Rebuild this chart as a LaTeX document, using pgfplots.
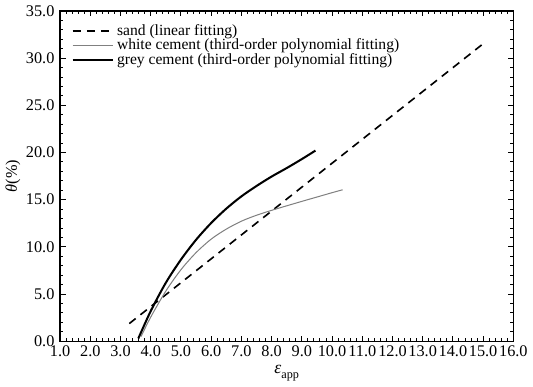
\documentclass[12pt,border=0pt]{standalone}
\usepackage{fontspec}
\setmainfont{Liberation Serif}
\usepackage{pgfplots}
\pgfplotsset{compat=1.18}
\begin{document}
\begin{tikzpicture}
\begin{axis}[
  width=334.5pt, height=243.75pt, scale only axis,
  xmin=1, xmax=16, ymin=0, ymax=35,
  xtick={1,2,...,16}, ytick={0,5,...,35},
  xticklabels={1.0,2.0,3.0,4.0,5.0,6.0,7.0,8.0,9.0,10.0,11.0,12.0,13.0,14.0,15.0,16.0},
  yticklabels={0.0,5.0,10.0,15.0,20.0,25.0,30.0,35.0},
  minor tick num=4,
  tick align=inside,
  major tick length=4pt, minor tick length=2.2pt,
  axis line style={line width=1pt},
  every tick/.style={black, line width=0.7pt},
  tick label style={font=\rmfamily\fontsize{12}{13}\selectfont},
  xticklabel style={yshift=1pt},
  xlabel={\fontsize{13}{14}\selectfont\textit{ε}\raisebox{-0.7ex}{\fontsize{9}{10}\selectfont app}},
  ylabel={\textit{θ}(\%)},
  label style={font=\fontsize{12}{14}\selectfont},
  xlabel style={yshift=2pt},
  ylabel style={yshift=-4pt},
  legend style={draw=none, fill=none, at={(0.022,0.972)}, anchor=north west,
    font=\fontsize{11.5}{13}\selectfont, row sep=-3.2pt, inner sep=1pt,
    /tikz/every even column/.append style={column sep=2pt}},
  legend cell align=left,
  legend image code/.code={\draw[#1] (0pt,0pt) -- (30pt,0pt);},
]
\addplot[black, line width=1.2pt, dash pattern=on 6pt off 4.5pt] coordinates {(3.29,1.87) (15.03,31.6)};
\addlegendentry{sand (linear fitting)}
\addplot[black!50, line width=0.75pt, smooth] coordinates {
(3.68,0.5) (4.0,2.56) (4.5,5.32) (5.0,7.58) (5.5,9.39) (6.0,10.82) (6.5,11.88) (7.0,12.72) (7.5,13.35) (8.0,13.87) (8.5,14.35) (9.0,14.82) (9.5,15.28) (10.0,15.74) (10.35,16.05)};
\addlegendentry{white cement (third-order polynomial fitting)}
\addplot[black, line width=1.5pt, smooth] coordinates {
(3.59,0.3) (4.0,3.2) (4.5,6.2) (5.0,8.65) (5.5,10.75) (6.0,12.53) (6.5,14.05) (7.0,15.35) (7.5,16.45) (8.0,17.45) (8.5,18.35) (9.0,19.3) (9.45,20.2)};
\addlegendentry{grey cement (third-order polynomial fitting)}
\end{axis}
\end{tikzpicture}
\end{document}
